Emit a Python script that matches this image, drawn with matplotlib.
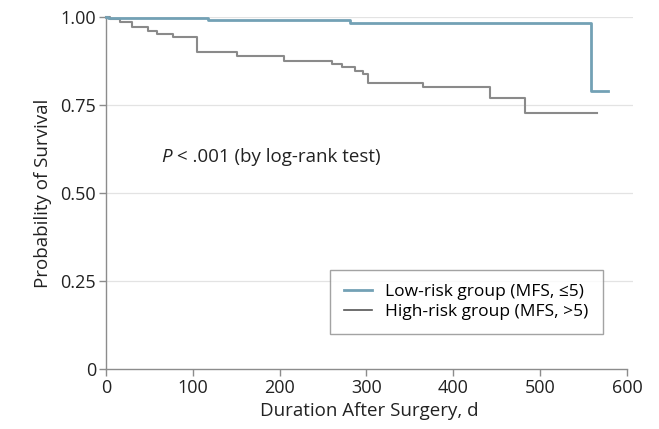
import matplotlib
matplotlib.use('Agg')
import matplotlib.pyplot as plt

# Kaplan-Meier step data (days, survival probability)
low_days = [0, 2, 117, 281, 559, 578]
low_surv = [1.000, 0.996, 0.991, 0.984, 0.790, 0.790]

high_days = [0, 5, 16, 30, 48, 59, 77, 105, 151, 205, 260, 272, 287, 296, 302, 365, 442, 483, 565]
high_surv = [1.000, 0.994, 0.986, 0.972, 0.960, 0.952, 0.943, 0.901, 0.889, 0.875,
             0.866, 0.858, 0.847, 0.838, 0.813, 0.801, 0.770, 0.727, 0.727]

x_ticks = [0, 100, 200, 300, 400, 500, 600]
y_ticks = [0, 0.25, 0.50, 0.75, 1.00]
y_tick_labels = ['0', '0.25', '0.50', '0.75', '1.00']

COL_LOW = '#73a1b5'; COL_HIGH = '#8a8a8a'; COL_AX = '#8c8c8c'

plt.rcParams.update({
    'font.family': ['Open Sans', 'DejaVu Sans'],
    'font.size': 12,
})

fig = plt.figure(figsize=(6.59, 4.29), dpi=100, facecolor='white')
ax = fig.add_axes([0.1608, 0.1399, 0.7997, 0.8205])

for yv in y_ticks[1:]:
    ax.axhline(yv, color='#e3e3e3', lw=0.9, zorder=0)

ax.step(low_days, low_surv, where='post', color=COL_LOW, lw=2.0,
        label='Low-risk group (MFS, \u22645)', clip_on=False, zorder=3)
ax.step(high_days, high_surv, where='post', color=COL_HIGH, lw=1.5,
        label='High-risk group (MFS, >5)', clip_on=False, zorder=2)

ax.set_xlim(0, 607); ax.set_ylim(0, 1.0)
ax.set_xticks(x_ticks); ax.set_yticks(y_ticks); ax.set_yticklabels(y_tick_labels)
for s in ['top', 'right']:
    ax.spines[s].set_visible(False)
for s in ['left', 'bottom']:
    ax.spines[s].set_color(COL_AX); ax.spines[s].set_linewidth(1.0)
ax.spines['bottom'].set_bounds(0, 600)
ax.tick_params(direction='out', length=5, width=1.0, color=COL_AX, labelsize=13,
               labelcolor='#222222', pad=2)

ax.set_xlabel('Duration After Surgery, d', fontsize=13.5, color='#222222', labelpad=4)
ax.set_ylabel('Probability of Survival', fontsize=13.5, color='#222222', labelpad=6)

t1 = ax.text(64, 0.602, 'P', fontsize=13.5, style='italic', color='#222222', va='center')
ax.annotate(' < .001 (by log-rank test)', xy=(1, 0.5), xycoords=t1, va='center',
            fontsize=13.5, color='#222222')

leg = ax.legend(loc='upper left', bbox_to_anchor=(0.425, 0.281), borderaxespad=0,
                frameon=True, fancybox=False, edgecolor='#8c8c8c', fontsize=12.5,
                handlelength=1.6, handletextpad=0.8, borderpad=0.8, labelspacing=0.2)
leg.get_frame().set_linewidth(1.0)
leg.legend_handles[1].set_color('#555555')
leg.legend_handles[1].set_linewidth(1.2)

fig.savefig('out.png', dpi=100, facecolor='white')
